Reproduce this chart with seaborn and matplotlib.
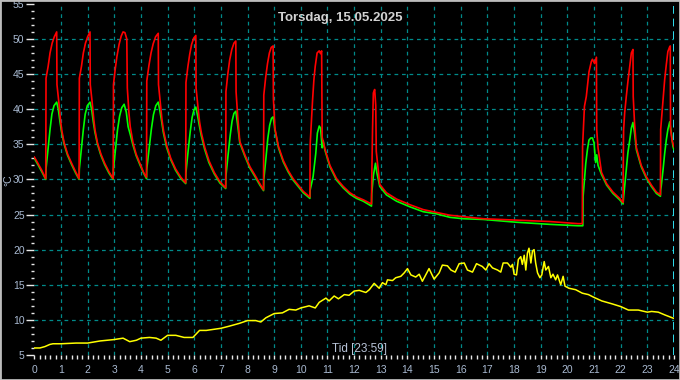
import matplotlib
matplotlib.use("Agg")
import matplotlib.pyplot as plt
import seaborn as sns
import pandas as pd
from matplotlib.ticker import MultipleLocator, FixedLocator
from matplotlib.patches import Rectangle

title_text = "Torsdag, 15.05.2025"
x_label = "Tid [23:59]"
y_label = "°C"

x_ticks = list(range(0, 25))
y_ticks = list(range(5, 56, 5))

red_hours = [0.00, 0.15, 0.28, 0.43,
             0.44, 0.52, 0.59, 0.67, 0.75, 0.84, 0.85, 0.92, 0.98, 1.03, 1.12, 1.25, 1.40, 1.55, 1.68,
             1.69, 1.77, 1.84, 1.92, 2.00, 2.09, 2.10, 2.17, 2.23, 2.28, 2.37, 2.50, 2.64, 2.80, 2.96,
             2.97, 3.03, 3.10, 3.18, 3.26, 3.33, 3.40, 3.47, 3.49, 3.55, 3.60, 3.70, 3.82, 3.96, 4.10, 4.21,
             4.22, 4.30, 4.38, 4.46, 4.55, 4.65, 4.66, 4.73, 4.79, 4.85, 4.97, 5.12, 5.30, 5.50, 5.68,
             5.69, 5.76, 5.83, 5.90, 5.98, 6.06, 6.07, 6.14, 6.20, 6.27, 6.40, 6.56, 6.75, 6.96, 7.18,
             7.19, 7.26, 7.33, 7.41, 7.49, 7.56, 7.57, 7.63, 7.71, 7.90, 8.09, 8.28, 8.46, 8.60,
             8.61, 8.68, 8.75, 8.82, 8.89, 8.96, 8.97, 9.03, 9.16, 9.34, 9.52, 9.71, 9.90, 10.09, 10.34,
             10.35, 10.40, 10.44, 10.49, 10.54, 10.61, 10.69, 10.74, 10.78, 10.80, 10.90, 11.09, 11.34,
             11.59, 11.84, 12.09, 12.34, 12.65,
             12.66, 12.69, 12.72, 12.77, 12.81, 12.83, 12.96, 13.21, 13.59, 14.09, 14.59, 15.09, 15.59,
             16.09, 16.84, 18.09, 19.34, 20.40, 20.56,
             20.57, 20.60, 20.64, 20.71, 20.75, 20.81, 20.90, 20.94, 21.02, 21.06, 21.09, 21.10, 21.15,
             21.28, 21.47, 21.71, 21.96, 22.09,
             22.10, 22.11, 22.15, 22.21, 22.27, 22.34, 22.40, 22.46, 22.47, 22.52, 22.59, 22.77, 22.96,
             23.15, 23.34, 23.49,
             23.50, 23.56, 23.61, 23.65, 23.71, 23.77, 23.84, 23.86, 23.87, 23.93, 24.00]
red_temp = [33.2, 32.2, 31.3, 30.1,
            44.4, 46.1, 48.0, 49.4, 50.3, 51.0, 43.5, 41.0, 38.6, 37.0, 35.2, 33.6, 32.3, 31.1, 30.1,
            44.4, 46.1, 48.0, 49.4, 50.3, 51.0, 43.5, 41.0, 38.6, 37.0, 35.2, 33.6, 32.3, 31.1, 30.1,
            43.5, 45.5, 47.5, 49.2, 50.4, 51.0, 50.9, 50.0, 43.0, 39.5, 37.5, 35.3, 33.6, 32.3, 31.0, 30.3,
            44.0, 46.2, 48.0, 49.3, 50.3, 50.8, 43.5, 40.8, 38.5, 36.9, 34.8, 33.0, 31.5, 30.3, 29.5,
            43.8, 46.0, 47.8, 49.2, 50.1, 50.5, 43.0, 40.3, 38.2, 36.6, 34.5, 32.6, 31.0, 29.7, 28.8,
            42.5, 45.0, 47.0, 48.5, 49.4, 49.7, 42.5, 39.0, 35.4, 33.5, 31.8, 30.6, 29.4, 28.5,
            42.0, 44.5, 46.5, 48.0, 48.8, 49.0, 41.5, 37.2, 34.7, 32.7, 31.3, 30.1, 29.2, 28.3, 27.5,
            35.0, 38.5, 41.3, 44.2, 46.1, 48.0, 48.3, 47.9, 48.3, 36.0, 34.4, 32.0, 30.1,
            29.0, 28.1, 27.5, 27.1, 26.5,
            30.0, 37.1, 42.3, 42.8, 40.5, 34.0, 29.3, 28.1, 27.2, 26.4, 25.7, 25.3, 24.9,
            24.7, 24.4, 24.2, 24.0, 23.7, 23.7,
            34.7, 37.1, 40.4, 41.8, 43.2, 45.3, 46.8, 47.1, 46.5, 47.0, 47.4, 37.1, 34.5,
            31.0, 29.4, 28.2, 27.3, 26.7,
            33.7, 37.1, 39.5, 41.8, 43.9, 46.1, 48.0, 48.5, 41.8, 38.0, 34.5, 32.0, 30.4,
            29.2, 28.2, 27.8,
            37.1, 39.9, 42.3, 44.2, 46.3, 48.2, 48.9, 49.0, 37.1, 35.5, 34.6]

green_hours = [0.00, 0.15, 0.28, 0.43,
               0.44, 0.52, 0.59, 0.66, 0.74, 0.84, 0.90, 0.96, 1.02, 1.12, 1.25, 1.40, 1.55, 1.68,
               1.69, 1.77, 1.84, 1.91, 1.99, 2.09, 2.15, 2.21, 2.27, 2.37, 2.50, 2.64, 2.80, 2.96,
               2.97, 3.05, 3.12, 3.20, 3.28, 3.37, 3.45, 3.52, 3.60, 3.70, 3.82, 3.96, 4.10, 4.21,
               4.22, 4.31, 4.39, 4.47, 4.56, 4.65, 4.71, 4.78, 4.84, 4.96, 5.12, 5.30, 5.50, 5.68,
               5.69, 5.77, 5.85, 5.92, 5.99, 6.06, 6.12, 6.19, 6.26, 6.39, 6.55, 6.75, 6.96, 7.18,
               7.19, 7.27, 7.35, 7.42, 7.49, 7.56, 7.62, 7.71, 7.90, 8.09, 8.28, 8.46, 8.60,
               8.61, 8.69, 8.76, 8.83, 8.90, 8.96, 9.03, 9.16, 9.34, 9.52, 9.71, 9.90, 10.09, 10.34,
               10.35, 10.46, 10.56, 10.62, 10.69, 10.74, 10.80, 10.84, 10.90, 11.09, 11.34, 11.59, 11.84,
               12.09, 12.34, 12.65,
               12.66, 12.72, 12.80, 12.85, 12.96, 13.21, 13.59, 14.09, 14.59, 15.09, 15.59, 16.09, 16.84,
               18.09, 19.34, 20.40, 20.58,
               20.59, 20.64, 20.69, 20.75, 20.81, 20.88, 20.94, 21.00, 21.06, 21.10, 21.15, 21.28, 21.47,
               21.71, 21.96, 22.09,
               22.11, 22.15, 22.21, 22.27, 22.34, 22.40, 22.46, 22.52, 22.59, 22.77, 22.96, 23.15, 23.34,
               23.49,
               23.50, 23.52, 23.59, 23.65, 23.71, 23.77, 23.84, 23.90, 23.96, 24.00]
green_temp = [33.0, 32.0, 31.1, 30.0,
              31.5, 34.5, 37.1, 39.3, 40.5, 41.0, 40.0, 38.3, 36.8, 35.0, 33.4, 32.1, 30.9, 30.0,
              31.5, 34.5, 37.1, 39.3, 40.5, 41.0, 40.0, 38.3, 36.8, 35.0, 33.4, 32.1, 30.9, 30.0,
              31.5, 34.5, 37.0, 39.0, 40.2, 40.7, 39.6, 37.5, 36.4, 34.9, 33.4, 32.1, 30.9, 30.1,
              31.5, 34.5, 37.1, 39.2, 40.5, 41.0, 39.8, 38.2, 36.7, 34.6, 32.8, 31.3, 30.1, 29.4,
              31.0, 34.0, 36.8, 38.8, 39.9, 40.3, 39.2, 37.7, 36.3, 34.3, 32.4, 30.8, 29.5, 28.7,
              30.5, 33.5, 36.3, 38.3, 39.4, 39.7, 38.0, 35.2, 33.3, 31.6, 30.4, 29.2, 28.4,
              30.0, 33.0, 35.8, 37.7, 38.7, 38.9, 37.0, 34.5, 32.5, 31.1, 29.9, 29.0, 28.1, 27.3,
              28.5, 30.4, 33.7, 36.6, 37.6, 37.3, 34.5, 35.5, 34.2, 31.8, 29.9, 28.8, 27.9,
              27.3, 26.9, 26.2,
              28.0, 30.5, 32.3, 31.0, 29.0, 27.8, 26.9, 26.1, 25.4, 25.1, 24.6, 24.4, 24.3,
              23.9, 23.6, 23.4, 23.4,
              27.6, 29.9, 32.3, 34.2, 35.6, 35.9, 35.9, 35.2, 32.4, 33.5, 32.0, 30.7, 29.2,
              28.0, 27.1, 26.5,
              27.5, 29.0, 31.4, 33.8, 35.6, 37.3, 38.1, 36.6, 34.2, 31.8, 30.2, 29.0, 28.0,
              27.6,
              28.5, 29.0, 31.4, 33.7, 35.6, 37.1, 38.2, 36.6, 34.7, 34.2]

yellow_hours = [0.00, 0.21, 0.40, 0.58, 0.70, 1.00, 1.57, 2.00, 2.47, 3.00, 3.33, 3.58, 3.83, 4.00,
                4.32, 4.57, 4.75, 5.00, 5.31, 5.62, 5.95, 6.20, 6.45, 7.00, 7.31, 7.69, 8.00, 8.31,
                8.50, 8.69, 9.00, 9.31, 9.56, 9.81, 10.00, 10.31, 10.54, 10.69, 10.94, 11.06, 11.25,
                11.41, 11.63, 11.81, 12.00, 12.19, 12.44, 12.57, 12.75, 12.94, 13.06, 13.19, 13.25,
                13.44, 13.56, 13.75, 13.88, 14.00, 14.13, 14.31, 14.44, 14.56, 14.81, 15.00, 15.19,
                15.31, 15.50, 15.63, 15.79, 15.94, 16.13, 16.25, 16.44, 16.59, 16.81, 16.94, 17.06,
                17.19, 17.38, 17.50, 17.59, 17.75, 17.88, 17.94, 18.00, 18.09, 18.16, 18.25, 18.31,
                18.38, 18.44, 18.50, 18.56, 18.63, 18.69, 18.75, 18.81, 18.88, 18.97, 19.04, 19.13,
                19.19, 19.29, 19.38, 19.46, 19.56, 19.63, 19.75, 19.84, 19.91, 20.06, 20.31, 20.56,
                20.79, 21.00, 21.29, 21.66, 22.00, 22.29, 22.66, 23.00, 23.16, 23.41, 23.66, 24.00]
yellow_temp = [6.0, 6.0, 6.2, 6.5, 6.6, 6.6, 6.7, 6.7, 7.0, 7.2, 7.4, 6.9, 7.1, 7.4,
               7.5, 7.4, 7.1, 7.8, 7.8, 7.5, 7.5, 8.5, 8.5, 8.8, 9.1, 9.5, 9.9, 9.9,
               9.7, 10.3, 10.9, 11.0, 11.5, 11.4, 11.7, 12.0, 11.7, 12.5, 13.1, 12.7, 13.4,
               13.0, 13.6, 13.5, 14.1, 14.2, 13.9, 14.3, 15.2, 14.5, 15.3, 15.0, 15.7,
               15.6, 16.0, 16.2, 16.7, 17.3, 16.4, 16.1, 16.5, 15.5, 17.3, 15.8, 16.7,
               17.8, 17.7, 17.1, 16.8, 18.0, 18.1, 17.1, 16.8, 18.0, 17.6, 17.1, 18.0,
               17.4, 17.1, 16.8, 18.1, 18.1, 17.5, 17.9, 16.5, 16.4, 18.6, 19.0, 17.9,
               19.2, 17.1, 19.5, 20.2, 18.1, 19.8, 20.0, 18.1, 16.7, 16.0, 16.4, 18.3,
               17.1, 17.6, 16.0, 16.5, 15.7, 16.4, 15.0, 16.2, 14.8, 14.5, 14.3, 13.8,
               13.6, 13.2, 12.7, 12.3, 11.9, 11.4, 11.4, 11.1, 11.2, 11.1, 10.7, 10.2]

red_df = pd.DataFrame({"hour": red_hours, "temp": red_temp})
green_df = pd.DataFrame({"hour": green_hours, "temp": green_temp})
yellow_df = pd.DataFrame({"hour": yellow_hours, "temp": yellow_temp})

sns.set_theme(style="dark")
plt.rcParams['font.family'] = ['Liberation Sans', 'DejaVu Sans']

fig = plt.figure(figsize=(6.8, 3.8), dpi=100, facecolor='black')
ax = fig.add_axes([34.3 / 680, 25 / 380, 639.7 / 680, 351.2 / 380])
ax.set_facecolor('black')
for s in ax.spines.values():
    s.set_visible(False)

ax.set_xlim(0, 24)
ax.set_ylim(5, 55)

grid_col = '#008a8a'
for xv in x_ticks[1:-1]:
    ax.axvline(xv, color=grid_col, lw=0.9, ls=(0, (3, 3)), zorder=1)
for yv in y_ticks[1:-1]:
    ax.axhline(yv, color=grid_col, lw=0.9, ls=(0, (3, 3)), zorder=1)
ax.axvline(x_ticks[-1], color='#30e0f0', lw=1.4, ls=(0, (4, 2.5)), zorder=1)

sns.lineplot(data=green_df, x="hour", y="temp", ax=ax, color='#00ff00', lw=1.2,
             estimator=None, sort=False, zorder=3)
sns.lineplot(data=red_df, x="hour", y="temp", ax=ax, color='#ff0000', lw=1.2,
             estimator=None, sort=False, zorder=4)
sns.lineplot(data=yellow_df, x="hour", y="temp", ax=ax, color='#ffff00', lw=1.1,
             estimator=None, sort=False, zorder=5)

ax.set_xlabel("")
ax.set_ylabel("")
ax.xaxis.set_major_locator(FixedLocator(x_ticks))
ax.xaxis.set_minor_locator(MultipleLocator(0.2))
ax.yaxis.set_major_locator(FixedLocator(y_ticks))
ax.yaxis.set_minor_locator(MultipleLocator(1))
ax.set_xticklabels([str(v) for v in x_ticks])
ax.set_yticklabels([str(v) for v in y_ticks])

lab_col = '#a9bad2'
ax.tick_params(axis='y', which='major', direction='out', length=6, width=1,
               color='#e8e8e8', labelcolor=lab_col, labelsize=7.5, pad=1, left=True)
ax.tick_params(axis='y', which='minor', direction='out', length=2.5, width=1,
               color='#e8e8e8', left=True)
ax.tick_params(axis='x', which='major', direction='out', length=3, width=1,
               color='#e8e8e8', labelcolor=lab_col, labelsize=7.5, pad=4, bottom=True)
ax.tick_params(axis='x', which='minor', direction='out', length=3, width=1,
               color='#e8e8e8', bottom=True)

fig.text(0.5, 1 - 18 / 380, title_text, ha='center', va='center', color='#d2d2d2',
         fontsize=9.5, fontweight='bold')
fig.text(359 / 680, 1 - 349 / 380, x_label, ha='center', va='center', color='#b8c4d8',
         fontsize=8.5)
fig.text(8.5 / 680, 1 - 180 / 380, y_label, ha='center', va='center', color='#b0c0d8',
         fontsize=7.5, rotation=90)

fig.patches.append(Rectangle((0, 0), 1, 1, transform=fig.transFigure, fill=False,
                             edgecolor='#bcbcbc', lw=2.0, zorder=10))

fig.savefig("out.png", dpi=100, facecolor='black')
